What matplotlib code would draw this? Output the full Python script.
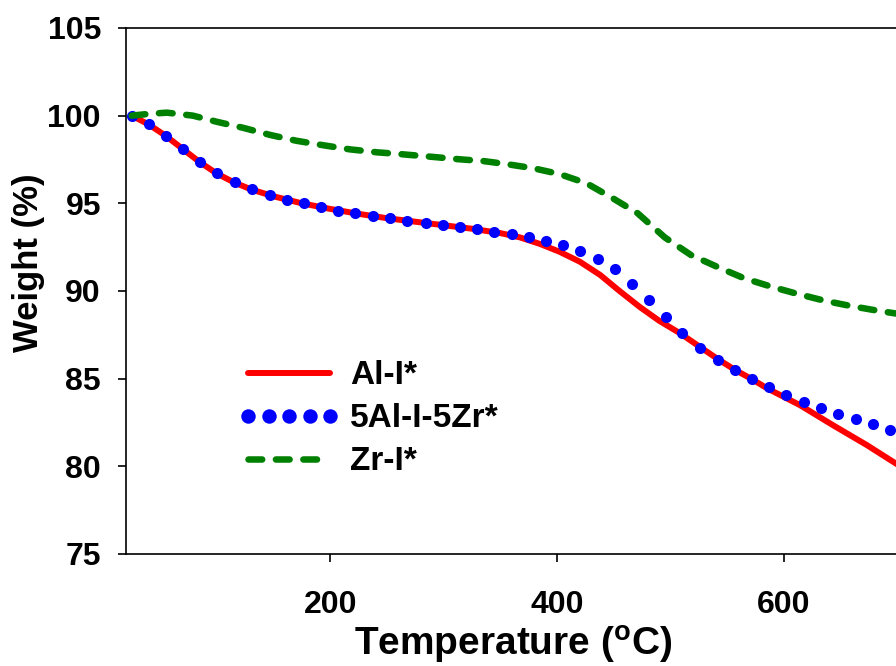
import matplotlib
matplotlib.use("Agg")
import matplotlib.pyplot as plt

plt.rcParams['font.family'] = ['Liberation Sans', 'DejaVu Sans']
plt.rcParams['font.weight'] = 'bold'
plt.rcParams['mathtext.default'] = 'regular'

# --- data ---
al_temp = [25, 40, 55, 70, 85, 100, 115, 130, 150, 175, 200, 225, 250, 275, 300,
           325, 350, 367, 385, 402, 420, 438, 455, 473, 490, 508, 525, 542, 557,
           572, 585, 614, 643, 673, 700, 705]
al_wt = [100.0, 99.5, 98.85, 98.1, 97.35, 96.7, 96.2, 95.8, 95.4, 95.0, 94.68,
         94.4, 94.15, 93.95, 93.75, 93.55, 93.3, 93.06, 92.68, 92.24, 91.67,
         90.91, 90.0, 89.08, 88.3, 87.6, 86.85, 86.1, 85.49, 84.96, 84.45,
         83.49, 82.35, 81.21, 80.1, 79.9]

alzr_temp = [25, 40, 55, 70, 85, 100, 116, 131, 147, 162, 177, 192, 207, 222, 238,
             253, 268, 284, 299, 314, 329, 344, 360, 375, 390, 405, 420, 436, 451,
             466, 481, 496, 510, 526, 542, 557, 572, 587, 602, 618, 633, 648, 663,
             678, 693]
alzr_wt = [100.0, 99.52, 98.84, 98.08, 97.34, 96.71, 96.2, 95.8, 95.47, 95.19,
           95.0, 94.77, 94.58, 94.43, 94.28, 94.14, 94.01, 93.88, 93.76, 93.63,
           93.52, 93.38, 93.23, 93.06, 92.85, 92.6, 92.3, 91.82, 91.24, 90.41,
           89.48, 88.53, 87.6, 86.76, 86.06, 85.47, 84.96, 84.5, 84.06, 83.67,
           83.32, 83.0, 82.7, 82.39, 82.09]

zr_temp = [25, 40, 56, 79, 100, 123, 147, 170, 194, 217, 241, 261, 288, 314, 335,
           355, 379, 402, 426, 449, 471, 495, 518, 542, 565, 589, 612, 636, 659,
           683, 705]
zr_wt = [100.0, 100.1, 100.17, 100.0, 99.65, 99.31, 98.9, 98.57, 98.31, 98.08,
         97.91, 97.81, 97.66, 97.51, 97.41, 97.24, 97.0, 96.67, 96.14, 95.29,
         94.43, 93.05, 92.05, 91.35, 90.72, 90.24, 89.83, 89.44, 89.14, 88.87,
         88.65]

fig = plt.figure(figsize=(8.96, 6.66), dpi=100)
# the axes run past the right edge of the picture, like the cropped original
ax = fig.add_axes([0.1406, 0.1682, 0.9877, 0.7898])

ax.plot(al_temp, al_wt, color='red', lw=4.3, solid_capstyle='round', label='Al-I*')
ax.plot(alzr_temp, alzr_wt, ls='none', marker='o', ms=8, color='blue',
        markeredgewidth=0, label='5Al-I-5Zr*')
ax.plot(zr_temp, zr_wt, color='green', lw=4.7, dashes=(2.1, 2.1),
        dash_capstyle='round', label='Zr-I*')

ax.set_xlim(20, 800)
ax.set_ylim(75, 105)
ax.set_xticks([200, 400, 600])
ax.set_yticks([75, 80, 85, 90, 95, 100, 105])

for s in ax.spines.values():
    s.set_linewidth(1.2)
ax.tick_params(direction='out', length=6, width=1.2, labelsize=23)
ax.tick_params(axis='x', pad=20)
ax.tick_params(axis='y', pad=12)

ax.set_xlabel('Temperature ($^o$C)', fontsize=28, fontweight='bold')
ax.set_ylabel('Weight (%)', fontsize=25, fontweight='bold')
ax.xaxis.set_label_coords(0.437, -0.133)
ax.yaxis.set_label_coords(-0.092, 0.553)

ax.legend(loc='upper left', bbox_to_anchor=(0.1266, 0.368), frameon=False,
          fontsize=24, numpoints=5, markerscale=1.3, handlelength=3.06,
          handletextpad=0.3, labelspacing=0.36, borderpad=0, borderaxespad=0)

fig.savefig('out.png', dpi=100)
